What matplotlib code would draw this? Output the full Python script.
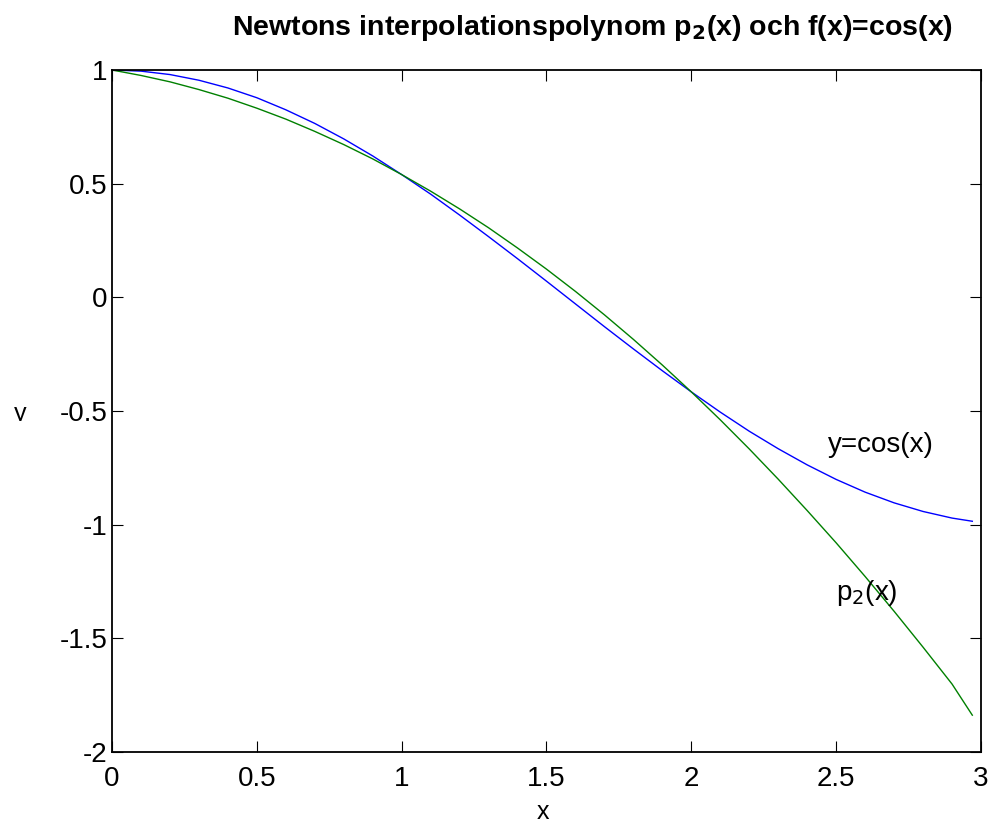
import matplotlib
matplotlib.use("Agg")
import matplotlib.pyplot as plt
from matplotlib.transforms import Bbox, TransformedBbox

plt.rcParams['font.family'] = ['Liberation Sans', 'DejaVu Sans']

# sample points
x = [0.0, 0.1, 0.2, 0.3, 0.4, 0.5, 0.6, 0.7, 0.8, 0.9, 1.0,
     1.1, 1.2, 1.3, 1.4, 1.5, 1.6, 1.7, 1.8, 1.9, 2.0,
     2.1, 2.2, 2.3, 2.4, 2.5, 2.6, 2.7, 2.8, 2.9, 2.97]

# f(x) = cos(x)
y_cos = [1.000, 0.995, 0.980, 0.955, 0.921, 0.878, 0.825, 0.765, 0.697, 0.622, 0.540,
         0.454, 0.362, 0.267, 0.170, 0.071, -0.029, -0.129, -0.227, -0.323, -0.416,
         -0.505, -0.589, -0.666, -0.737, -0.801, -0.857, -0.904, -0.942, -0.971, -0.985]

# Newton interpolation polynomial p2(x) through x = 0, 1, 2
y_p2 = [1.000, 0.976, 0.948, 0.914, 0.876, 0.832, 0.784, 0.730, 0.672, 0.609, 0.540,
        0.467, 0.389, 0.306, 0.217, 0.124, 0.026, -0.077, -0.185, -0.298, -0.416,
        -0.539, -0.667, -0.800, -0.938, -1.080, -1.228, -1.381, -1.539, -1.701, -1.838]

xticks = [0, 0.5, 1, 1.5, 2, 2.5, 3]
xticklabels = ['0', '0.5', '1', '1.5', '2', '2.5', '3']
yticks = [-2, -1.5, -1, -0.5, 0, 0.5, 1]
yticklabels = ['-2', '-1.5', '-1', '-0.5', '0', '0.5', '1']

W, H = 995, 826
fig = plt.figure(figsize=(W / 100, H / 100), dpi=100)
ax = fig.add_axes([112 / W, 1 - 752 / H, (981 - 112) / W, (752 - 70) / H])

ax.plot(x, y_cos, color=(0, 0, 1), lw=1.0)
ax.plot(x, y_p2, color=(0, 0.5, 0), lw=1.0)

ax.set_xlim(0, 3)
ax.set_ylim(-2, 1)
ax.set_xticks(xticks)
ax.set_xticklabels(xticklabels)
ax.set_yticks(yticks)
ax.set_yticklabels(yticklabels)
ax.tick_params(direction='in', length=8, width=0.8, top=True, right=True,
               labelsize=20)
ax.tick_params(axis='x', pad=10)
ax.tick_params(axis='y', pad=3)
for s in ax.spines.values():
    s.set_linewidth(1.3)

ax.text(2.47, -0.65, 'y=cos(x)', fontsize=20, ha='left', va='center')
ax.text(2.50, -1.30, r'p$_2$(x)', fontsize=20, ha='left', va='center')

fig.text(593 / W, 1 - 28 / H,
         r'Newtons interpolationspolynom p$_\mathbf{2}$(x) och f(x)=cos(x)',
         fontsize=20.5, fontweight='bold', ha='center', va='center')

fig.text(543 / W, 1 - 819 / H, 'x', fontsize=18, ha='center', va='baseline')

ylab = fig.text(20 / W, 1 - 421 / H, 'y', fontsize=18, ha='center', va='baseline')
ylab.set_clip_box(TransformedBbox(Bbox.from_extents(0, 1 - 421 / H, 0.1, 1),
                                  fig.transFigure))
ylab.set_clip_on(True)

fig.savefig('out.png', dpi=100)
